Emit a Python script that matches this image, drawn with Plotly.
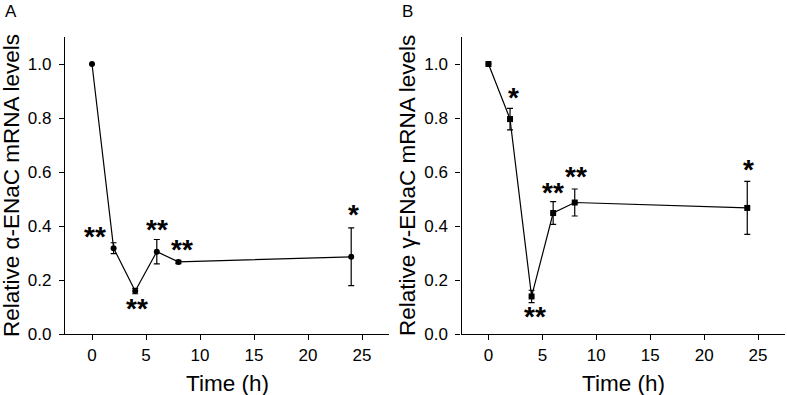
import plotly.graph_objects as go

# ---- data ----
time_h = [0, 2, 4, 6, 8, 24]

alpha_mean = [1.0, 0.318, 0.159, 0.305, 0.267, 0.286]
alpha_err = [0.0, 0.02, 0.01, 0.045, 0.006, 0.107]

gamma_mean = [1.0, 0.796, 0.139, 0.448, 0.487, 0.467]
gamma_err = [0.0, 0.04, 0.023, 0.042, 0.05, 0.098]

# significance labels (text, x, y) in data units
alpha_sig_text = ["**", "**", "**", "**", "*"]
alpha_sig_x = [0.3, 4.15, 6.0, 8.3, 24.2]
alpha_sig_y = [0.374, 0.107, 0.397, 0.323, 0.453]

gamma_sig_text = ["*", "**", "**", "**", "*"]
gamma_sig_x = [2.28, 4.3, 6.0, 8.1, 24.1]
gamma_sig_y = [0.886, 0.075, 0.534, 0.594, 0.62]

x_ticks = [0, 5, 10, 15, 20, 25]
y_ticks = [0.0, 0.2, 0.4, 0.6, 0.8, 1.0]
y_ticklabels = ["0.0", "0.2", "0.4", "0.6", "0.8", "1.0"]

FONT = "Liberation Sans, Arial, sans-serif"
W, H = 787, 395


def px(x):
    return x / W


def py(y):
    return 1 - y / H


fig = go.Figure()

fig.add_trace(go.Scatter(
    x=time_h, y=alpha_mean, mode="lines+markers",
    line=dict(color="black", width=1.2),
    marker=dict(symbol="circle", size=6, color="black"),
    error_y=dict(type="data", array=alpha_err, visible=True, color="black", thickness=1.2, width=3),
    xaxis="x", yaxis="y", showlegend=False, cliponaxis=False,
))
fig.add_trace(go.Scatter(
    x=time_h, y=gamma_mean, mode="lines+markers",
    line=dict(color="black", width=1.2),
    marker=dict(symbol="square", size=6, color="black"),
    error_y=dict(type="data", array=gamma_err, visible=True, color="black", thickness=1.2, width=3),
    xaxis="x2", yaxis="y2", showlegend=False, cliponaxis=False,
))

ydom = [py(334), py(37)]
xdomA = [px(65), px(389)]
xdomB = [px(461.5), px(785)]

axis_common = dict(
    showgrid=False, zeroline=False, showline=True, linecolor="black", linewidth=1.3,
    ticks="outside", ticklen=5, tickwidth=1.3, tickcolor="black",
    tickfont=dict(family=FONT, size=17, color="black"), automargin=False,
)

fig.update_layout(
    width=W, height=H,
    margin=dict(l=0, r=0, t=0, b=0, pad=0),
    paper_bgcolor="white", plot_bgcolor="white",
    xaxis=dict(domain=xdomA, range=[-2.5, 27.5], tickvals=x_ticks, anchor="y", **axis_common),
    yaxis=dict(domain=ydom, range=[0, 1.1], tickvals=y_ticks, ticktext=y_ticklabels, anchor="x",
               ticklabelstandoff=4, **axis_common),
    xaxis2=dict(domain=xdomB, range=[-2.5, 27.5], tickvals=x_ticks, anchor="y2", **axis_common),
    yaxis2=dict(domain=ydom, range=[0, 1.1], tickvals=y_ticks, ticktext=y_ticklabels, anchor="x2",
                ticklabelstandoff=4, **axis_common),
)

ann = []
star_shift = -3
star_font = dict(family=FONT, size=28, color="black")
for t, x, y in zip(alpha_sig_text, alpha_sig_x, alpha_sig_y):
    ann.append(dict(text="<b>" + t + "</b>", x=x, y=y, xref="x", yref="y", showarrow=False,
                    font=star_font, yshift=star_shift))
for t, x, y in zip(gamma_sig_text, gamma_sig_x, gamma_sig_y):
    ann.append(dict(text="<b>" + t + "</b>", x=x, y=y, xref="x2", yref="y2", showarrow=False,
                    font=star_font, yshift=star_shift))

title_font = dict(family=FONT, size=22.5, color="black")
# axis titles
ann.append(dict(text="Time (h)", x=px(227), y=py(383), xref="paper", yref="paper",
                showarrow=False, font=title_font, xanchor="center", yanchor="middle"))
ann.append(dict(text="Time (h)", x=px(623), y=py(383), xref="paper", yref="paper",
                showarrow=False, font=title_font, xanchor="center", yanchor="middle"))
ann.append(dict(text="Relative α-ENaC mRNA levels", x=px(11), y=py(186), xref="paper", yref="paper",
                showarrow=False, font=title_font, textangle=-90, xanchor="center", yanchor="middle"))
ann.append(dict(text="Relative γ-ENaC mRNA levels", x=px(407), y=py(186), xref="paper", yref="paper",
                showarrow=False, font=title_font, textangle=-90, xanchor="center", yanchor="middle"))
# panel letters
ann.append(dict(text="A", x=px(11), y=py(11), xref="paper", yref="paper",
                showarrow=False, font=dict(family=FONT, size=17, color="black"), xanchor="center", yanchor="middle"))
ann.append(dict(text="B", x=px(407), y=py(11), xref="paper", yref="paper",
                showarrow=False, font=dict(family=FONT, size=17, color="black"), xanchor="center", yanchor="middle"))

fig.update_layout(annotations=ann)
fig.write_html("out.html", config={"displayModeBar": False},
               post_script="document.body.style.margin='0';")
